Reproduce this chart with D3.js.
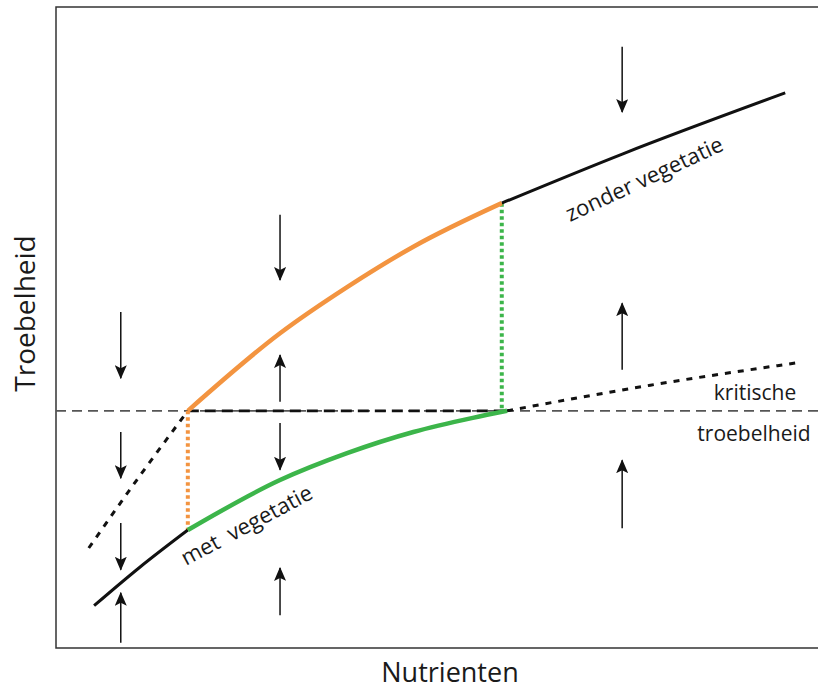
<!DOCTYPE html>
<html>
<head>
<meta charset="utf-8">
<script src="https://cdn.jsdelivr.net/npm/d3@7"></script>
<style>
  body { margin: 0; background: #fff; }
  text { font-family: "Open Sans", sans-serif; fill: #1a1a1a; }
</style>
</head>
<body>
<div id="chart"></div>
<script>
// ---- data (abstract units: nutrients 0-100, turbidity 0-100) ----
const critical = 37.0;

// upper branch: turbid state without vegetation
const zonderStableX = [17.3, 29.4, 38.2, 46.9, 58.5];
const zonderStableY = [37.0, 49.1, 56.3, 62.6, 69.4];
const zonderHighX   = [58.5, 74.4, 95.7];
const zonderHighY   = [69.4, 77.1, 86.6];
const zonderUnstX   = [4.3, 10.6, 17.3];
const zonderUnstY   = [15.6, 26.2, 37.0];

// lower branch: clear state with vegetation
const metLowX    = [5.0, 11.0, 17.3];
const metLowY    = [6.6, 12.6, 18.4];
const metStableX = [17.3, 29.4, 38.2, 46.9, 54.7, 59.2];
const metStableY = [18.4, 26.2, 30.4, 33.7, 35.9, 37.0];
const metUnstX   = [59.2, 78.0, 97.9];
const metUnstY   = [37.0, 41.0, 44.6];

// arrows: x, from y, to y
const arrowX    = [8.5, 8.5, 8.5, 8.5, 29.4, 29.4, 29.4, 29.4, 74.3, 74.3, 74.3];
const arrowFrom = [52.4, 33.7, 19.5, 0.8, 67.6, 38.4, 35.1, 5.1, 93.8, 43.4, 18.7];
const arrowTo   = [42.1, 26.5, 12.2, 8.6, 57.4, 45.7, 27.8, 12.5, 83.6, 53.8, 29.3];

const width = 818, height = 690;

const svg = d3.select('#chart').append('svg')
  .attr('width', width)
  .attr('height', height)
  .attr('viewBox', [0, 0, width, height]);

const x = d3.scaleLinear().domain([0, 100]).range([56, 818]);
const y = d3.scaleLinear().domain([0, 100]).range([648, 7]);

const zip = (xs, ys) => xs.map((v, i) => [v, ys[i]]);
const line = d3.line().x(d => x(d[0])).y(d => y(d[1])).curve(d3.curveMonotoneX);

// arrowhead marker
svg.append('defs').append('marker')
  .attr('id', 'head')
  .attr('viewBox', '0 0 14 12')
  .attr('refX', 13).attr('refY', 6)
  .attr('markerWidth', 14).attr('markerHeight', 12)
  .attr('markerUnits', 'userSpaceOnUse')
  .attr('orient', 'auto')
  .append('path')
  .attr('d', 'M0,0 L14,6 L0,12 L3,6 Z')
  .attr('fill', '#111');

// frame (left, top, bottom; open to the right)
svg.append('path')
  .attr('d', `M${width + 2},${y(100)} H${x(0)} V${y(0)} H${width + 2}`)
  .attr('fill', 'none').attr('stroke', '#333').attr('stroke-width', 1.5);

// critical turbidity line
svg.append('line')
  .attr('x1', x(0)).attr('x2', width)
  .attr('y1', y(critical)).attr('y2', y(critical))
  .attr('stroke', '#555').attr('stroke-width', 1.6).attr('stroke-dasharray', '10,6');

svg.append('line')
  .attr('x1', x(zonderStableX[0])).attr('x2', x(metStableX[metStableX.length - 1]))
  .attr('y1', y(critical)).attr('y2', y(critical))
  .attr('stroke', '#111').attr('stroke-width', 2.6).attr('stroke-dasharray', '11,6');

// unstable branches
[zip(zonderUnstX, zonderUnstY), zip(metUnstX, metUnstY)].forEach(pts => {
  svg.append('path').attr('d', line(pts))
    .attr('fill', 'none').attr('stroke', '#111')
    .attr('stroke-width', 3).attr('stroke-dasharray', '6,7');
});

// vertical dotted jumps
svg.append('line')
  .attr('x1', x(metStableX[0])).attr('x2', x(metStableX[0]))
  .attr('y1', y(critical)).attr('y2', y(metStableY[0]))
  .attr('stroke', '#f39440').attr('stroke-width', 4).attr('stroke-dasharray', '3.5,3');

svg.append('line')
  .attr('x1', x(zonderStableX[zonderStableX.length - 1])).attr('x2', x(zonderStableX[zonderStableX.length - 1]))
  .attr('y1', y(zonderStableY[zonderStableY.length - 1])).attr('y2', y(critical))
  .attr('stroke', '#3cb54a').attr('stroke-width', 4).attr('stroke-dasharray', '3.5,3');

// stable branches
svg.append('path').attr('d', line(zip(zonderHighX, zonderHighY)))
  .attr('fill', 'none').attr('stroke', '#111').attr('stroke-width', 3);
svg.append('path').attr('d', line(zip(metLowX, metLowY)))
  .attr('fill', 'none').attr('stroke', '#111').attr('stroke-width', 3);
svg.append('path').attr('d', line(zip(zonderStableX, zonderStableY)))
  .attr('fill', 'none').attr('stroke', '#f39440').attr('stroke-width', 4.5);
svg.append('path').attr('d', line(zip(metStableX, metStableY)))
  .attr('fill', 'none').attr('stroke', '#3cb54a').attr('stroke-width', 4.5);

// arrows
svg.append('g').selectAll('line')
  .data(arrowX.map((v, i) => ({ x: v, from: arrowFrom[i], to: arrowTo[i] })))
  .join('line')
  .attr('x1', d => x(d.x)).attr('x2', d => x(d.x))
  .attr('y1', d => y(d.from)).attr('y2', d => y(d.to))
  .attr('stroke', '#111').attr('stroke-width', 1.5)
  .attr('marker-end', 'url(#head)');

// labels
svg.append('text')
  .attr('transform', `translate(35,${(y(0) + y(100)) / 2 - 14}) rotate(-90)`)
  .attr('text-anchor', 'middle').attr('font-size', 28)
  .text('Troebelheid');

svg.append('text')
  .attr('x', 450).attr('y', 682)
  .attr('text-anchor', 'middle').attr('font-size', 27)
  .text('Nutrienten');

svg.append('text')
  .attr('x', 755).attr('y', 400)
  .attr('text-anchor', 'middle').attr('font-size', 21)
  .text('kritische');

svg.append('text')
  .attr('x', 754).attr('y', 441)
  .attr('text-anchor', 'middle').attr('font-size', 21)
  .text('troebelheid');

svg.append('text')
  .attr('transform', 'translate(570,222) rotate(-25)')
  .attr('font-size', 22)
  .text('zonder vegetatie');

svg.append('text')
  .attr('transform', 'translate(186,566) rotate(-28)')
  .attr('font-size', 22)
  .attr('xml:space', 'preserve')
  .text('met  vegetatie');
</script>
</body>
</html>
